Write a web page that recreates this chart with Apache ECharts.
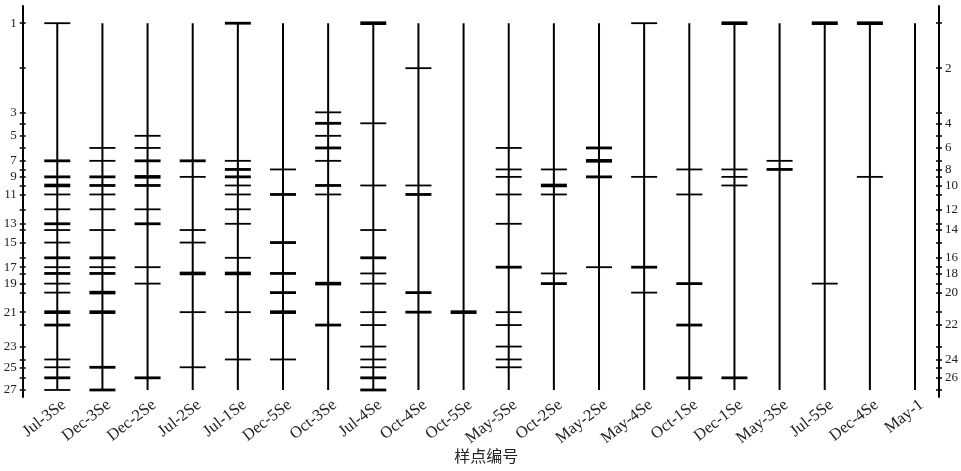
<!DOCTYPE html>
<html>
<head>
<meta charset="utf-8">
<script src="https://cdn.jsdelivr.net/npm/echarts@6/dist/echarts.min.js"></script>
<style>html,body{margin:0;padding:0;background:#fff}#c{width:961px;height:471px}</style>
</head>
<body>
<div id="c"></div>
<script>
// Lane (sample) names
const lanes = ['Jul-3Se','Dec-3Se','Dec-2Se','Jul-2Se','Jul-1Se','Dec-5Se','Oct-3Se','Jul-4Se','Oct-4Se','Oct-5Se',
  'May-5Se','Oct-2Se','May-2Se','May-4Se','Oct-1Se','Dec-1Se','May-3Se','Jul-5Se','Dec-4Se','May-1'];
// Band numbers and their migration positions (relative distance, 0-100)
const bandNumbers = [1,2,3,4,5,6,7,8,9,10,11,12,13,14,15,16,17,18,19,20,21,22,23,24,25,26,27];
const bandPositions = [4.4,15.9,27.2,30.0,33.2,36.3,39.6,41.8,43.7,45.9,48.2,52.0,55.7,57.3,60.5,64.4,66.8,68.4,71.0,73.3,78.3,81.6,87.1,90.4,92.4,95.1,98.2];
// Bands present in each lane: [band number, intensity 1..3]
const jul3Se = [[1,1],[7,2],[9,2],[10,3],[11,1],[12,1],[13,2],[14,1],[15,1],[16,2],[17,1],[18,2],[19,1],[20,1],[21,3],[22,2],[24,1],[25,1],[26,2],[27,1]];
const dec3Se = [[6,1],[7,1],[9,2],[10,2],[11,1],[12,1],[14,1],[16,2],[17,1],[18,2],[20,3],[21,3],[25,2],[27,2]];
const dec2Se = [[5,1],[6,1],[7,2],[9,3],[10,2],[12,1],[13,2],[17,1],[19,1],[26,2]];
const jul2Se = [[7,2],[9,1],[14,1],[15,1],[18,3],[21,1],[25,1]];
const jul1Se = [[1,2],[7,1],[8,2],[9,2],[10,1],[11,1],[12,1],[13,1],[16,1],[18,3],[21,1],[24,1]];
const dec5Se = [[8,1],[11,2],[15,2],[18,2],[20,2],[21,3],[24,1]];
const oct3Se = [[3,1],[4,2],[5,1],[6,2],[7,1],[10,2],[11,1],[19,3],[22,2]];
const jul4Se = [[1,3],[4,1],[10,1],[14,1],[16,2],[18,1],[19,1],[21,1],[22,1],[23,1],[24,1],[25,1],[26,2],[27,2]];
const oct4Se = [[2,1],[10,1],[11,2],[20,2],[21,2]];
const oct5Se = [[21,3]];
const may5Se = [[6,1],[8,1],[9,1],[11,1],[13,1],[17,2],[21,1],[22,1],[23,1],[24,1],[25,1]];
const oct2Se = [[8,1],[10,3],[11,1],[18,1],[19,2]];
const may2Se = [[6,2],[7,3],[9,2],[17,1]];
const may4Se = [[1,1],[9,1],[17,2],[20,1]];
const oct1Se = [[8,1],[11,1],[19,2],[22,2],[26,2]];
const dec1Se = [[1,3],[8,1],[9,1],[10,1],[26,2]];
const may3Se = [[7,1],[8,2]];
const jul5Se = [[1,3],[19,1]];
const dec4Se = [[1,3],[9,1]];
const may1 = [];
const laneBands = [jul3Se,dec3Se,dec2Se,jul2Se,jul1Se,dec5Se,oct3Se,jul4Se,oct4Se,oct5Se,
  may5Se,oct2Se,may2Se,may4Se,oct1Se,dec1Se,may3Se,jul5Se,dec4Se,may1];

const posOf = n => bandPositions[bandNumbers.indexOf(n)];
const labelOf = v => { const i = bandPositions.indexOf(v); return i >= 0 ? String(bandNumbers[i]) : ''; };
const oddPos = bandPositions.filter((p,i) => bandNumbers[i] % 2 === 1);
const evenPos = bandPositions.filter((p,i) => bandNumbers[i] % 2 === 0);

const laneData = lanes.map((l,i) => [i, posOf(1), posOf(27)]);
const bandData = [];
laneBands.forEach((arr,i) => arr.forEach(b => bandData.push([i, posOf(b[0]), b[1]])));

const serif = '"Liberation Serif","Times New Roman",serif';
const widthByIntensity = [0, 1.8, 2.8, 3.6];

const baseY = (gi, pos, inside, labels, show) => ({
  type: 'value', gridIndex: gi, position: pos, inverse: true, min: 0, max: 100,
  splitLine: {show: false},
  axisLine: {show: show, onZero: false, lineStyle: {color: '#000', width: 2}},
  axisTick: {show: true, inside: inside, length: 3, customValues: bandPositions, lineStyle: {color: '#000', width: 1.5}},
  axisLabel: labels ? {show: true, customValues: labels, formatter: v => labelOf(v), fontFamily: serif, fontSize: 13, color: '#222', margin: 6} : {show: false}
});

const chart = echarts.init(document.getElementById('c'), null, {renderer: 'canvas'});
chart.setOption({
  animation: false,
  backgroundColor: '#fff',
  grid: [
    {left: 22.7, right: 19.3, top: 6, bottom: 74},
    {left: 34.7, right: 23.4, top: 6, bottom: 74},
    {left: 41.2, right: 16.9, top: 6, bottom: 74}
  ],
  xAxis: [
    {type: 'value', gridIndex: 0, min: 0, max: 1, show: false},
    {type: 'category', gridIndex: 1, data: lanes, boundaryGap: true,
     axisLine: {show: false}, axisTick: {show: false}, splitLine: {show: false},
     axisLabel: {show: false},
     name: '样点编号', nameLocation: 'middle', nameGap: 51,
     nameTextStyle: {fontFamily: '"Noto Sans CJK SC",sans-serif', fontSize: 16, color: '#222'}},
    {type: 'category', gridIndex: 2, data: lanes, boundaryGap: true,
     axisLine: {show: false}, axisTick: {show: false}, splitLine: {show: false},
     axisLabel: {interval: 0, rotate: 38, fontFamily: serif, fontSize: 16.5, color: '#222', margin: 6}}
  ],
  yAxis: [
    baseY(0, 'left', false, oddPos, true),
    baseY(0, 'left', true, null, false),
    baseY(0, 'right', false, evenPos, true),
    baseY(0, 'right', true, null, false),
    {type: 'value', gridIndex: 1, inverse: true, min: 0, max: 100, show: false},
    {type: 'value', gridIndex: 2, inverse: true, min: 0, max: 100, show: false}
  ],
  series: [
    {
      type: 'custom', xAxisIndex: 1, yAxisIndex: 4, data: laneData,
      renderItem: (params, api) => {
        const a = api.coord([api.value(0), api.value(1)]);
        const b = api.coord([api.value(0), api.value(2)]);
        return {type: 'line', shape: {x1: a[0], y1: a[1], x2: b[0], y2: b[1]}, style: {stroke: '#000', lineWidth: 2}};
      }
    },
    {
      type: 'custom', xAxisIndex: 1, yAxisIndex: 4, data: bandData,
      renderItem: (params, api) => {
        const c = api.coord([api.value(0), api.value(1)]);
        const w = widthByIntensity[api.value(2)];
        return {type: 'line', shape: {x1: c[0] - 13, y1: c[1], x2: c[0] + 13, y2: c[1]}, style: {stroke: '#000', lineWidth: w}};
      }
    }
  ]
});
</script>
</body>
</html>
